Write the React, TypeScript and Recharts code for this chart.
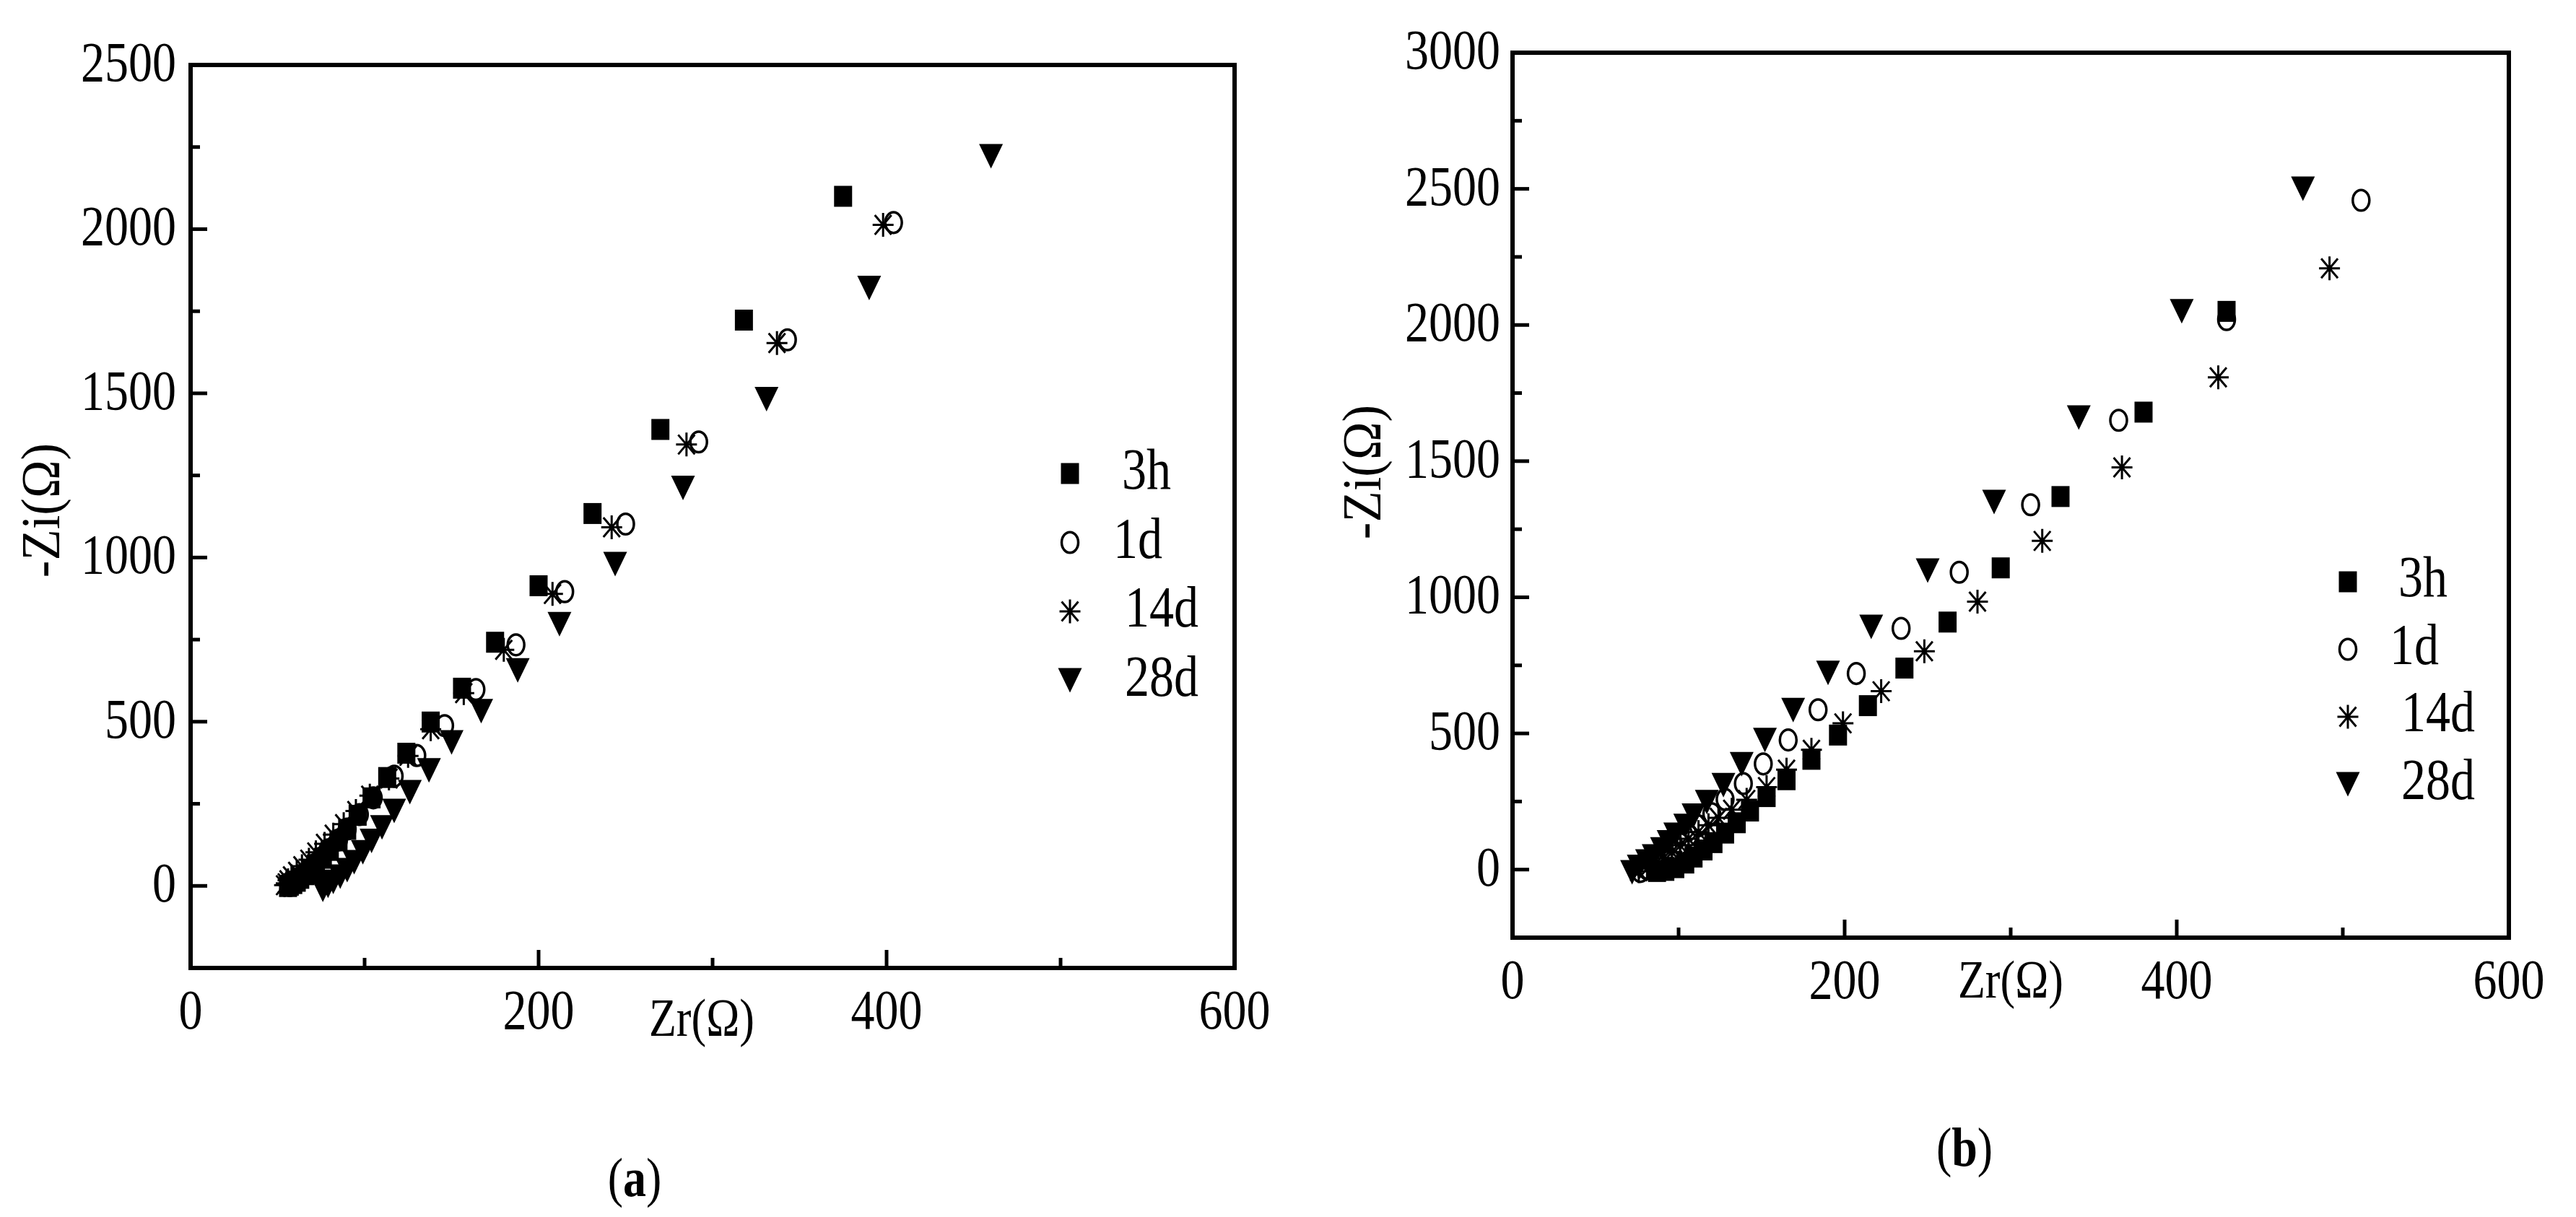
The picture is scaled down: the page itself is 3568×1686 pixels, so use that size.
import React from "react";
import { ScatterChart, Scatter, XAxis, YAxis, ReferenceArea, Legend } from "recharts";

type Pt = [number, number];

const FONT = '"Liberation Serif", "Times New Roman", serif';
const STRETCH = 1.19;

const seriesNames = ["3h", "1d", "14d", "28d"];

// panel (a)
const a3h: Pt[] = [
  [375, 2100], [318, 1723], [270, 1390], [231, 1134], [200, 914], [175, 742], [156, 602],
  [138, 499], [124, 404], [113, 330], [104, 268], [96, 215], [90, 172], [85, 137], [80, 108],
  [76, 84], [72, 64], [69, 48], [66, 34], [63, 23], [61, 14], [59, 7], [57, 2], [56, -2],
];
const a1d: Pt[] = [
  [404, 2020], [343, 1663], [292, 1352], [250, 1102], [215, 896], [187, 734], [164, 598],
  [146, 488], [130, 397], [117, 334], [105, 268], [97, 217], [90, 173], [85, 140], [79, 110],
  [75, 85], [71, 64], [68, 47], [65, 33], [62, 22], [60, 13], [58, 6], [57, 1],
];
const a14d: Pt[] = [
  [398, 2013], [337, 1653], [285, 1344], [242, 1092], [208, 889], [180, 719], [157, 587],
  [138, 477], [125, 396], [114, 327], [103, 275], [95, 228], [88, 188], [82, 156], [77, 128],
  [72, 102], [68, 80], [64, 60], [61, 43], [58, 29], [56, 17], [55, 8], [54, 2],
];
const a28d: Pt[] = [
  [460, 2222], [390, 1821], [331, 1482], [283, 1212], [244, 980], [212, 797], [188, 656],
  [167, 532], [150, 437], [137, 352], [126, 285], [117, 228], [110, 178], [104, 137], [99, 102],
  [94, 72], [90, 48], [86, 28], [82, 12], [79, 0], [76, -12],
];

// panel (b)
const b3h: Pt[] = [
  [430, 2050], [380, 1680], [330, 1370], [294, 1108], [262, 909], [236, 740], [214, 602],
  [196, 494], [180, 405], [165, 330], [153, 268], [143, 215], [135, 172], [128, 134], [121, 99],
  [115, 72], [109, 46], [104, 24], [98, 7], [92, -3], [87, -7],
];
const b1d: Pt[] = [
  [511, 2458], [430, 2020], [365, 1650], [312, 1340], [269, 1092], [234, 886], [207, 720],
  [184, 587], [166, 476], [151, 388], [139, 316], [128, 258], [120, 205], [112, 161], [106, 125],
  [101, 95], [96, 68], [91, 42], [86, 20], [81, 3], [77, -7],
];
const b14d: Pt[] = [
  [492, 2208], [425, 1808], [367, 1477], [319, 1207], [280, 984], [248, 802], [222, 655],
  [199, 537], [180, 440], [165, 367], [153, 303], [141, 256], [132, 220], [124, 190], [118, 163],
  [112, 138], [106, 113], [101, 89], [96, 65], [91, 42], [86, 20], [81, 4], [76, -6],
];
const b28d: Pt[] = [
  [476, 2500], [403, 2050], [341, 1660], [290, 1350], [250, 1098], [216, 891], [190, 722],
  [169, 586], [152, 476], [138, 387], [127, 310], [117, 248], [109, 198], [104, 160], [98, 128],
  [94, 100], [90, 74], [85, 48], [81, 30], [76, 10], [72, -10],
];

const xTicks = [0, 100, 200, 300, 400, 500, 600];
const xLabelTicks = [0, 200, 400, 600];
const yTicksA = [0, 250, 500, 750, 1000, 1250, 1500, 1750, 2000, 2250, 2500];
const yTicksB = [0, 250, 500, 750, 1000, 1250, 1500, 1750, 2000, 2250, 2500, 2750, 3000];
const yLabelTicksA = [0, 500, 1000, 1500, 2000, 2500];
const yLabelTicksB = [0, 500, 1000, 1500, 2000, 2500, 3000];

const toData = (pts: Pt[]) => pts.map(([x, y]) => ({ x, y }));

function Marker({ kind, cx, cy }: { kind: string; cx: number; cy: number }) {
  if (kind === "3h") return <rect x={cx - 12.5} y={cy - 14.5} width={25} height={29} fill="#000" />;
  if (kind === "1d")
    return <ellipse cx={cx} cy={cy} rx={11.5} ry={14.3} fill="none" stroke="#000" strokeWidth={3.5} />;
  if (kind === "14d")
    return (
      <path
        d={`M${cx - 14.5},${cy}H${cx + 14.5}M${cx},${cy - 16.5}V${cy + 16.5}M${cx - 11.5},${cy - 13.5}L${cx + 11.5},${cy + 13.5}M${cx - 11.5},${cy + 13.5}L${cx + 11.5},${cy - 13.5}`}
        stroke="#000"
        strokeWidth={3}
        fill="none"
      />
    );
  return <path d={`M${cx - 16.5},${cy - 17}L${cx + 16.5},${cy - 17}L${cx},${cy + 17}Z`} fill="#000" />;
}

function Stretched({ tx, ty, size, anchor, children, weight }: any) {
  return (
    <g transform={`translate(${tx},${ty}) scale(1,${STRETCH})`}>
      <text x={0} y={0} textAnchor={anchor} fontSize={size} fontWeight={weight} fontFamily={FONT} fill="#000">
        {children}
      </text>
    </g>
  );
}

const makeXTick = (labels: number[]) => (props: any) => {
  const { x, y, payload } = props;
  const major = labels.includes(payload.value);
  return (
    <g>
      <line x1={x} y1={y} x2={x} y2={y - (major ? 25 : 14)} stroke="#000" strokeWidth={5} />
      {major && (
        <Stretched tx={x} ty={y + 84} size={66} anchor="middle">
          {payload.value}
        </Stretched>
      )}
    </g>
  );
};

const makeYTick = (labels: number[], gap: number) => (props: any) => {
  const { x, y, payload } = props;
  const major = labels.includes(payload.value);
  return (
    <g>
      <line x1={x} y1={y} x2={x + (major ? 23 : 13)} y2={y} stroke="#000" strokeWidth={5} />
      {major && (
        <Stretched tx={x - gap} ty={y + 22} size={66} anchor="end">
          {payload.value}
        </Stretched>
      )}
    </g>
  );
};

function YTitle({ titleX, titleY }: { titleX: number; titleY: number }) {
  return (
    <g transform={`translate(${titleX},${titleY}) rotate(-90) scale(0.92,1)`}>
      <text x={0} y={20} textAnchor="middle" fontSize={77} fontFamily={FONT} fill="#000">
        -Zi(Ω)
      </text>
    </g>
  );
}

function XTitle({ titleX, titleY, capX, capY, cap }: { titleX: number; titleY: number; capX: number; capY: number; cap: string }) {
  return (
    <g>
      <Stretched tx={titleX} ty={titleY} size={62} anchor="start">
        Zr(Ω)
      </Stretched>
      <g transform={`translate(${capX},${capY}) scale(1,${STRETCH})`}>
        <text x={0} y={0} textAnchor="middle" fontSize={64} fontFamily={FONT} fill="#000">
          (<tspan fontWeight="bold">{cap}</tspan>)
        </text>
      </g>
    </g>
  );
}

function LegendBox({ mx, my, step, tx, dy, textX }: { mx: number; my: number; step: number; tx: number; dy: number; textX: number[] }) {
  return (
    <svg width={300} height={420} style={{ overflow: "visible" }}>
      {seriesNames.map((name, i) => (
        <g key={name}>
          <Marker kind={name} cx={mx} cy={my + i * step} />
          <Stretched tx={tx + textX[i]} ty={my + i * step + dy} size={68} anchor="start">
            {name}
          </Stretched>
        </g>
      ))}
    </svg>
  );
}

interface PanelProps {
  series: Pt[][];
  yMax: number;
  yTicks: number[];
  yLabels: number[];
  margin: { top: number; right: number; bottom: number; left: number };
  yGap: number;
  yTitle: { titleX: number; titleY: number };
  xTitle: { titleX: number; titleY: number; capX: number; capY: number; cap: string };
  legendPos: { left: number; top: number };
  legend: { mx: number; my: number; step: number; tx: number; dy: number; textX: number[] };
}

function Panel(p: PanelProps) {
  return (
    <ScatterChart width={1784} height={1686} margin={p.margin}>
      <XAxis
        type="number"
        dataKey="x"
        domain={[0, 600]}
        ticks={xTicks}
        interval={0}
        height={1}
        tickSize={0}
        tickMargin={0}
        tickLine={false}
        axisLine={false}
        allowDataOverflow
        tick={makeXTick(xLabelTicks)}
        label={<XTitle {...p.xTitle} />}
      />
      <YAxis
        type="number"
        dataKey="y"
        domain={[-250, p.yMax]}
        ticks={p.yTicks}
        interval={0}
        width={1}
        tickSize={0}
        tickMargin={0}
        tickLine={false}
        axisLine={false}
        allowDataOverflow
        tick={makeYTick(p.yLabels, p.yGap)}
        label={<YTitle {...p.yTitle} />}
      />
      <ReferenceArea
        x1={0}
        x2={600}
        y1={-250}
        y2={p.yMax}
        fill="none"
        fillOpacity={0}
        stroke="#000"
        strokeWidth={6}
        ifOverflow="visible"
      />
      {p.series.map((pts, i) => (
        <Scatter
          key={seriesNames[i]}
          name={seriesNames[i]}
          data={toData(pts)}
          isAnimationActive={false}
          shape={(s: any) => <Marker kind={seriesNames[i]} cx={s.cx} cy={s.cy} />}
        />
      ))}
      <Legend
        layout="vertical"
        align="center"
        verticalAlign="middle"
        wrapperStyle={{ left: p.legendPos.left, top: p.legendPos.top, width: 300, height: 420 }}
        content={() => <LegendBox {...p.legend} />}
      />
    </ScatterChart>
  );
}

export default function App() {
  return (
    <div style={{ position: "absolute", left: 0, top: 0, width: 3568, height: 1686, background: "#fff" }}>
      <div style={{ position: "absolute", left: 0, top: 0 }}>
        <Panel
          series={[a3h, a1d, a14d, a28d]}
          yMax={2500}
          yTicks={yTicksA}
          yLabels={yLabelTicksA}
          margin={{ top: 90, right: 74, bottom: 344, left: 263 }}
          yGap={20}
          yTitle={{ titleX: 62, titleY: 707 }}
          xTitle={{ titleX: 899, titleY: 1435, capX: 879, capY: 1657, cap: "a" }}
          legendPos={{ left: 1440, top: 610 }}
          legend={{ mx: 42, my: 46, step: 95.5, tx: 116, dy: 21, textX: [-2, -14, 2, 2] }}
        />
      </div>
      <div style={{ position: "absolute", left: 1784, top: 0 }}>
        <Panel
          series={[b3h, b1d, b14d, b28d]}
          yMax={3000}
          yTicks={yTicksB}
          yLabels={yLabelTicksB}
          margin={{ top: 73, right: 93, bottom: 386, left: 310 }}
          yGap={17}
          yTitle={{ titleX: 108, titleY: 654 }}
          xTitle={{ titleX: 928, titleY: 1382, capX: 937, capY: 1615, cap: "b" }}
          legendPos={{ left: 1430, top: 760 }}
          legend={{ mx: 38, my: 46, step: 93.5, tx: 110, dy: 20, textX: [-2, -14, 2, 2] }}
        />
      </div>
    </div>
  );
}
